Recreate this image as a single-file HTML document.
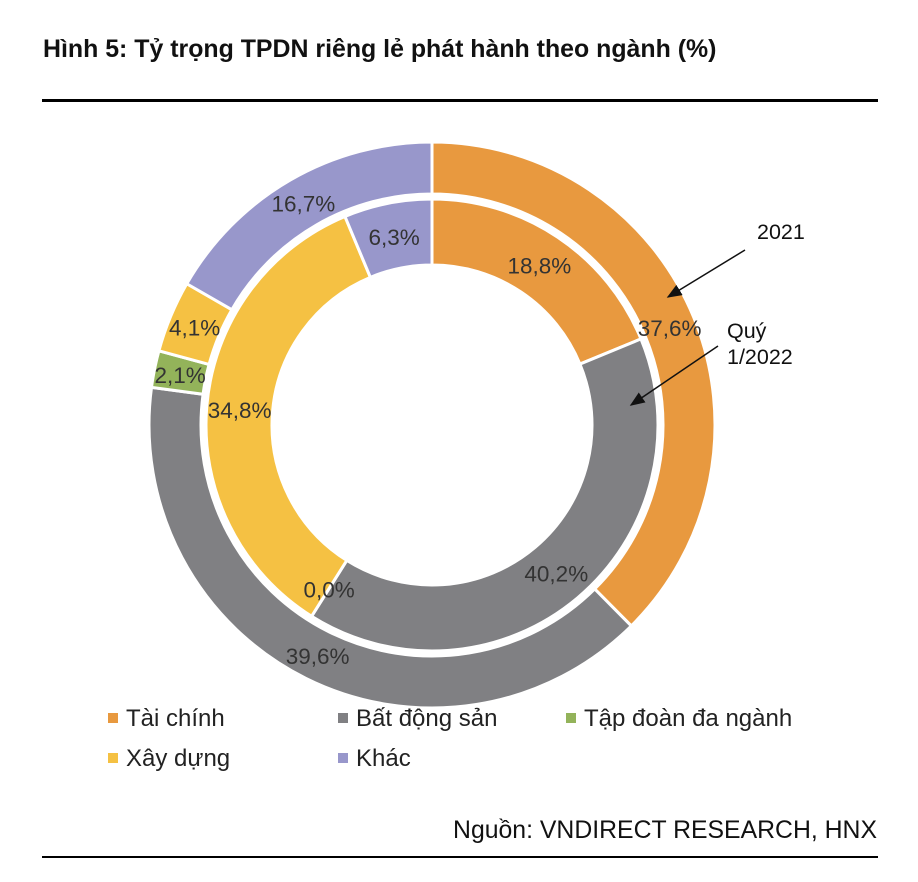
<!DOCTYPE html>
<html><head><meta charset="utf-8">
<style>
body{margin:0;background:#fff;width:918px;height:882px;overflow:hidden;font-family:"Liberation Sans","Noto Sans CJK SC",sans-serif;}
#title{position:absolute;left:43px;top:35px;font-size:24.9px;font-weight:bold;color:#111;white-space:nowrap;}
.rule{position:absolute;left:42px;width:836px;background:#000;}
#src{position:absolute;right:41px;top:817px;font-size:24.8px;color:#111;white-space:nowrap;}
svg{position:absolute;left:0;top:0;}
</style></head><body>
<div id="title">Hình 5: Tỷ trọng TPDN riêng lẻ phát hành theo ngành (%)</div>
<div class="rule" style="top:99px;height:3px"></div>
<div class="rule" style="top:856px;height:2px"></div>
<div id="src">Nguồn: VNDIRECT RESEARCH, HNX</div>
<svg id="chart" width="918" height="882">
<defs><marker id="ah" markerWidth="10" markerHeight="8" refX="9" refY="4" orient="auto"><path d="M0,0 L10,4 L0,8 z" fill="#111"/></marker></defs>
<g id="slices"></g><g id="labels"></g>
</svg>
<script>
const categories=["Tài chính","Bất động sản","Tập đoàn đa ngành","Xây dựng","Khác"];
const colors=["#E8993F","#808083","#93B35A","#F5C143","#9897CB"];
const outer2021=[37.6,39.6,2.1,4.1,16.7];
const inner2022=[18.8,40.2,0.0,34.8,6.3];
const svg=document.getElementById('chart');
const gS=document.getElementById('slices'),gL=document.getElementById('labels');
const NS='http://www.w3.org/2000/svg';
const cx=432,cy=425;
function pt(r,a){return [cx+r*Math.sin(a),cy-r*Math.cos(a)];}
function ring(vals,r0,r1,lr,name){
  const tot=vals.reduce((a,b)=>a+b,0);let acc=0;
  vals.forEach((v,i)=>{
    const a0=acc/tot*2*Math.PI;acc+=v;const a1=acc/tot*2*Math.PI;
    if(v>0){
      const lg=(a1-a0)>Math.PI?1:0;
      const p0=pt(r1,a0),p1=pt(r1,a1),p2=pt(r0,a1),p3=pt(r0,a0);
      const p=document.createElementNS(NS,'path');
      p.setAttribute('d',`M${p0} A${r1},${r1} 0 ${lg} 1 ${p1} L${p2} A${r0},${r0} 0 ${lg} 0 ${p3} Z`);
      p.setAttribute('fill',colors[i]);p.setAttribute('stroke','#fff');p.setAttribute('stroke-width','3');
      
      
      gS.appendChild(p);
    }
    const am=(a0+a1)/2;const q=pt(lr,am);
    const t=document.createElementNS(NS,'text');
    t.setAttribute('x',q[0]);t.setAttribute('y',q[1]+9);t.setAttribute('text-anchor','middle');
    t.setAttribute('font-size','22.5');t.setAttribute('fill','#333');
    t.setAttribute('font-family','Liberation Sans, sans-serif');
    t.textContent=v.toFixed(1).replace('.',',')+'%';
    
    
    gL.appendChild(t);
  });
}
ring(outer2021,231,283,257,'outer-2021');
ring(inner2022,160,226,193,'inner-2022');
function txt(x,y,s,n){const t=document.createElementNS(NS,'text');t.setAttribute('x',x);t.setAttribute('y',y);t.setAttribute('font-size','21.5');t.setAttribute('fill','#111');t.setAttribute('font-family','Liberation Sans, sans-serif');t.textContent=s;svg.appendChild(t);}
function arr(x1,y1,x2,y2,n){const l=document.createElementNS(NS,'line');l.setAttribute('x1',x1);l.setAttribute('y1',y1);l.setAttribute('x2',x2);l.setAttribute('y2',y2);l.setAttribute('stroke','#111');l.setAttribute('stroke-width','1.5');l.setAttribute('marker-end','url(#ah)');svg.appendChild(l);}
txt(757,239,'2021','annotation-2021');
arr(745,250,668,297,'arrow-2021');
txt(727,338,'Quý','annotation-q1-line1');
txt(727,364,'1/2022','annotation-q1-line2');
arr(718,346,631,405,'arrow-q1-2022');
const legPos=[[108,718],[338,718],[566,718],[108,758],[338,758]];
categories.forEach((c,i)=>{
  const g=document.createElementNS(NS,'g');
  
  
  const r=document.createElementNS(NS,'rect');r.setAttribute('x',legPos[i][0]);r.setAttribute('y',legPos[i][1]-5);r.setAttribute('width',10);r.setAttribute('height',10);r.setAttribute('fill',colors[i]);g.appendChild(r);
  const t=document.createElementNS(NS,'text');t.setAttribute('x',legPos[i][0]+18);t.setAttribute('y',legPos[i][1]+8);t.setAttribute('font-size','24');t.setAttribute('fill','#222');t.setAttribute('font-family','Liberation Sans, sans-serif');t.textContent=c;g.appendChild(t);
  svg.appendChild(g);
});
</script>
</body></html>
